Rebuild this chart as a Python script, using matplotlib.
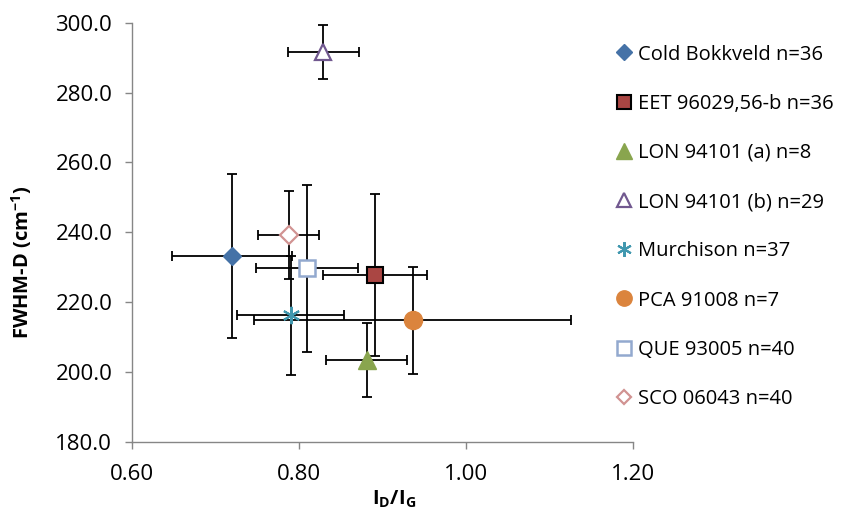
import matplotlib
matplotlib.use("Agg")
import matplotlib.pyplot as plt
from matplotlib.lines import Line2D
from matplotlib.ticker import MultipleLocator, FormatStrFormatter

# data
names = ["Cold Bokkveld n=36", "EET 96029,56-b n=36", "LON 94101 (a) n=8",
         "LON 94101 (b) n=29", "Murchison n=37", "PCA 91008 n=7",
         "QUE 93005 n=40", "SCO 06043 n=40"]
id_ig = [0.720, 0.891, 0.881, 0.829, 0.790, 0.936, 0.810, 0.788]
fwhm_d = [233.3, 227.8, 203.5, 291.6, 216.3, 214.9, 229.7, 239.2]
id_ig_err = [0.072, 0.0625, 0.048, 0.0425, 0.0635, 0.19, 0.061, 0.0365]
fwhm_d_err = [23.5, 23.2, 10.6, 7.8, 17.0, 15.3, 23.8, 12.6]

# marker styles per series (marker, size, face, edge, edge width)
styles = [
    ("D", 9.2, "#4572A7", "#4572A7", 1.0),
    ("s", 11.8, "#AA4643", "black", 1.5),
    ("^", 13.0, "#89A54E", "#89A54E", 1.0),
    ("^", 12.0, "white", "#71588F", 1.6),
    ((6, 2, 0), 12.5, "#4198AF", "#4198AF", 1.5),
    ("o", 13.0, "#DB843D", "#DB843D", 1.0),
    ("s", 11.8, "white", "#93A9CF", 1.8),
    ("D", 8.8, "white", "#D19392", 1.6),
]

FS = 14.5
plt.rcParams["font.family"] = ["Open Sans", "DejaVu Sans"]
plt.rcParams["mathtext.fontset"] = "custom"
plt.rcParams["mathtext.rm"] = "Open Sans"
plt.rcParams["mathtext.bf"] = "Open Sans:bold"

fig = plt.figure(figsize=(8.43, 5.15), dpi=100)
ax = fig.add_axes([131.7 / 843, 1 - 442 / 515, (633.3 - 131.7) / 843, (442 - 22.7) / 515])

handles = []
for i in range(len(names)):
    mk, ms, fc, ec, mew = styles[i]
    ax.errorbar(id_ig[i], fwhm_d[i], xerr=id_ig_err[i], yerr=fwhm_d_err[i],
                fmt="none", ecolor="black", elinewidth=1.3, capsize=3.8,
                capthick=1.3, zorder=2)
    ax.plot(id_ig[i], fwhm_d[i], linestyle="none", marker=mk, markersize=ms,
            markerfacecolor=fc, markeredgecolor=ec, markeredgewidth=mew, zorder=3)
    handles.append(Line2D([], [], linestyle="none", marker=mk, markersize=ms * 0.85,
                          markerfacecolor=fc, markeredgecolor=ec, markeredgewidth=mew))

ax.set_xlim(0.6, 1.2)
ax.set_ylim(180, 300)
ax.xaxis.set_major_locator(MultipleLocator(0.2))
ax.yaxis.set_major_locator(MultipleLocator(20))
ax.xaxis.set_major_formatter(FormatStrFormatter("%.2f"))
ax.yaxis.set_major_formatter(FormatStrFormatter("%.1f"))

# axes look
for s in ["top", "right"]:
    ax.spines[s].set_visible(False)
for s in ["left", "bottom"]:
    ax.spines[s].set_color("#868686")
    ax.spines[s].set_linewidth(1.0)
ax.tick_params(axis="both", colors="#868686", length=5, width=1.0, labelsize=16,
               labelcolor="black")
ax.tick_params(axis="x", pad=11)
ax.tick_params(axis="y", pad=9)

# axis titles
fig.text(22 / 843, 1 - 262 / 515, r"FWHM-D (cm$^{\mathbf{-1}}$)", rotation=90,
         ha="center", va="center", fontsize=FS, fontweight="bold")
fig.text(394.5 / 843, 1 - 499 / 515, r"I$_{\mathbf{D}}$/I$_{\mathbf{G}}$",
         ha="center", va="center", fontsize=FS, fontweight="bold")

fig.legend(handles, names, loc="upper left", bbox_to_anchor=(615 / 843, 1 - 44.5 / 515),
           frameon=False, fontsize=FS, handlelength=0.9, handletextpad=0.25,
           labelspacing=1.45, borderpad=0, borderaxespad=0)

fig.savefig("out.png", dpi=100)
